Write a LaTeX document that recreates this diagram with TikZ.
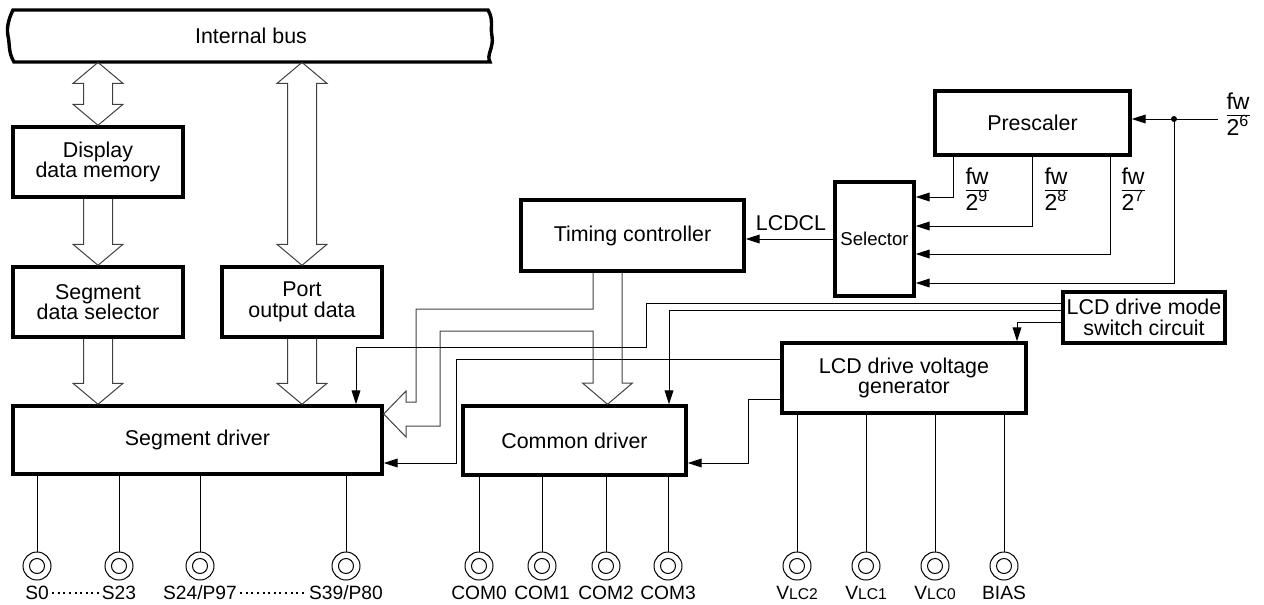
\documentclass[tikz,border=0pt]{standalone}
\usepackage{fontspec}
\setmainfont{Liberation Sans}
\usetikzlibrary{arrows.meta,calc,positioning}

\newcommand{\fwover}[1]{{\renewcommand{\arraystretch}{0.8}\begin{tabular}{@{}c@{}}fw\\\hline\rule{0pt}{9pt}2\textsuperscript{#1}\end{tabular}}}
\newcommand{\lcsub}[1]{{\fontsize{7.8}{9}\selectfont #1}}
\newcommand{\hollowarrow}[2]{%
  \draw[hollow] ($(#1)+(-14.5,0)$) -- ($(#2)+(-14.5,-21)$) -- ($(#2)+(-25,-21)$) -- (#2)
    -- ($(#2)+(25,-21)$) -- ($(#2)+(14.5,-21)$) -- ($(#1)+(14.5,0)$);}
\newcommand{\hollowdarrow}[2]{%
  \draw[hollow] (#1) -- ($(#1)+(25,21)$) -- ($(#1)+(14.5,21)$) -- ($(#2)+(14.5,-21)$)
    -- ($(#2)+(25,-21)$) -- (#2) -- ($(#2)+(-25,-21)$) -- ($(#2)+(-14.5,-21)$)
    -- ($(#1)+(-14.5,21)$) -- ($(#1)+(-25,21)$) -- cycle;}

\begin{document}
\begin{tikzpicture}[x=0.5pt,y=-0.5pt,
  blk/.style={draw,line width=1.7pt,align=center,inner sep=0pt,font=\fontsize{10.7}{10.2}\selectfont},
  sig/.style={line width=0.5pt,-{Triangle[length=7pt,width=4.4pt]}},
  wire/.style={line width=0.5pt},
  hollow/.style={line width=0.5pt,draw=black!75},
  pinnode/.style={circle,draw,line width=0.5pt,minimum size=14pt,inner sep=0pt},
  pinlabel/.style={font=\fontsize{9.6}{11}\selectfont,inner sep=1.5pt},
  pindots/.style={line width=1pt,dash pattern=on 1pt off 1.8pt},
  fwlabel/.style={font=\fontsize{11.5}{12}\selectfont,inner sep=0pt}]
  \useasboundingbox (0,0) rectangle (1264,605);

  \draw[line width=1.7pt] (13,10) -- (488,10) .. controls (494,20) and (490,28) .. (492,36)
    .. controls (494,48) and (486,55) .. (490,62) -- (14,62) .. controls (8,52) and (10,44) .. (8,36)
    .. controls (6,26) and (10,16) .. (13,10) -- cycle;
  \node[font=\fontsize{10.7}{12}\selectfont,minimum width=241pt,minimum height=26pt,inner sep=0pt] (bus) at (251,36) {Internal bus};

  \node[blk,minimum width=85pt,minimum height=35pt] (ddm) at (98,162) {Display\\data memory};
  \node[blk,minimum width=85pt,minimum height=35pt] (sds) at (98,302) {Segment\\data selector};
  \node[blk,minimum width=80pt,minimum height=35pt] (pod) at (302,302) {Port\\output data};
  \node[blk,minimum width=184.5pt,minimum height=34pt] (segdrv) at (197.5,440) {Segment driver};
  \node[blk,minimum width=111.5pt,minimum height=34.5pt] (comdrv) at (574.5,440.5) {Common driver};
  \node[blk,minimum width=111.5pt,minimum height=35.5pt] (tc) at (632.5,235.5) {Timing controller};
  \node[blk,minimum width=39.5pt,minimum height=57pt,font=\fontsize{9.3}{10}\selectfont] (sel) at (874.5,239) {Selector};
  \node[blk,minimum width=97.5pt,minimum height=32pt] (pre) at (1032.5,123) {Prescaler};
  \node[blk,minimum width=81pt,minimum height=25.5pt] (mode) at (1144,317.5) {LCD drive mode\\switch circuit};
  \node[blk,minimum width=122pt,minimum height=35pt] (ldvg) at (904,378) {LCD drive voltage\\generator};

  \hollowdarrow{ddm.north |- bus.south}{ddm.north}
  \hollowdarrow{pod.north |- bus.south}{pod.north}
  \hollowarrow{ddm.south}{sds.north}
  \hollowarrow{sds.south}{sds.south |- segdrv.north}
  \hollowarrow{pod.south}{pod.south |- segdrv.north}
  \draw[hollow] (tc.south -| 593,0) -- (593,309) -- (416,309) -- (416,402) -- (406,402) -- (406,391)
    -- (segdrv.east |- 0,414) -- (406,437) -- (406,426) -- (440,426) -- (440,331) -- (593,331)
    -- (593,383) -- (582.5,383) -- (comdrv.north -| 607.5,0) -- (632.5,383) -- (622,383) -- (tc.south -| 622,0);

  \coordinate (fin) at (1218,119);
  \coordinate (tap) at (1174,119);
  \draw[sig] (fin) -- (pre.east |- fin);
  \fill (tap) circle (1.5pt);
  \draw[sig] (pre.south -| 953,0) |- (sel.east |- 0,197);
  \draw[sig] (pre.south -| 1032,0) |- (sel.east |- 0,226);
  \draw[sig] (pre.south -| 1110,0) |- (sel.east |- 0,254);
  \draw[sig] (tap) |- (sel.east |- 0,283);
  \node[fwlabel] (fw6) at (1238,117) {\fwover{6}};
  \node[fwlabel] (fw9) at (977,192) {\fwover{9}};
  \node[fwlabel] (fw8) at (1056,192) {\fwover{8}};
  \node[fwlabel] (fw7) at (1133,192) {\fwover{7}};

  \draw[sig] (sel.west) -- (sel.west -| tc.east);
  \node[font=\fontsize{10.7}{12}\selectfont] (lcdcl) at (791,223) {LCDCL};

  \draw[sig] (mode.west |- 0,303) -| (646,347) -| (segdrv.north -| 356,0);
  \draw[sig] (mode.west |- 0,310) -| (comdrv.north -| 669,0);
  \draw[sig] (mode.west |- 0,322) -| (ldvg.north -| 1017,0);
  \draw[sig] (ldvg.west |- 0,359) -| (456,463) -- (segdrv.east |- 0,463);
  \draw[sig] (ldvg.west |- 0,399) -| (748,463) -- (comdrv.east |- 0,463);

  \foreach \px/\src/\lab [count=\i] in {37/segdrv/S0, 119/segdrv/S23, 200/segdrv/{S24/P97},
      346/segdrv/{S39/P80}, 479/comdrv/COM0, 542/comdrv/COM1, 606/comdrv/COM2, 668/comdrv/COM3,
      797/ldvg/{V\lcsub{LC2}}, 866/ldvg/{V\lcsub{LC1}}, 935/ldvg/{V\lcsub{LC0}}, 1004/ldvg/BIAS}{
    \node[pinnode] (pin\i) at (\px,566) {};
    \draw[line width=0.5pt] (pin\i.center) circle (3.75pt);
    \draw[wire] (\src.south -| pin\i) -- (pin\i);
    \node[pinlabel] (lab\i) at (\px,593) {\lab};
  }
  \draw[pindots] (lab1.east) -- (lab2.west);
  \draw[pindots] (lab3.east) -- (lab4.west);
\end{tikzpicture}
\end{document}
